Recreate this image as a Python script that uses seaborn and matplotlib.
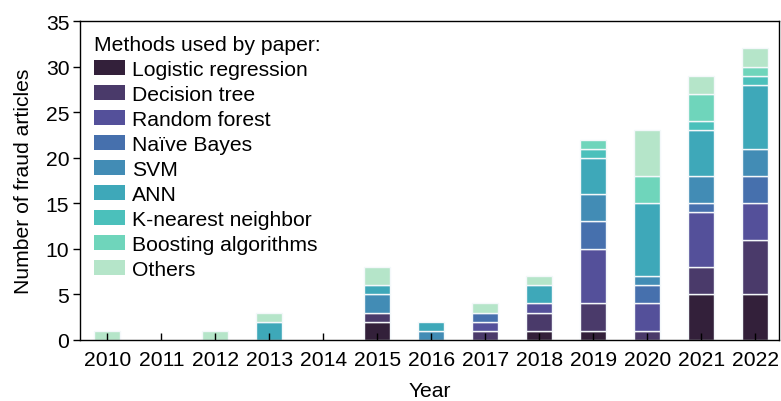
import matplotlib
matplotlib.use("Agg")
import matplotlib.pyplot as plt
from matplotlib.patches import Patch
import numpy as np
import pandas as pd
import seaborn as sns

years = [2010, 2011, 2012, 2013, 2014, 2015, 2016, 2017, 2018, 2019, 2020, 2021, 2022]
methods = ["Logistic regression", "Decision tree", "Random forest", "Naïve Bayes",
           "SVM", "ANN", "K-nearest neighbor", "Boosting algorithms", "Others"]

logistic_regression = [0, 0, 0, 0, 0, 2, 0, 0, 1, 1, 0, 5, 5]
decision_tree       = [0, 0, 0, 0, 0, 1, 0, 1, 2, 3, 1, 3, 6]
random_forest       = [0, 0, 0, 0, 0, 0, 0, 1, 1, 6, 3, 6, 4]
naive_bayes         = [0, 0, 0, 0, 0, 0, 0, 1, 0, 3, 2, 1, 3]
svm                 = [0, 0, 0, 0, 0, 2, 1, 0, 0, 3, 1, 3, 3]
ann                 = [0, 0, 0, 2, 0, 1, 1, 0, 2, 4, 8, 5, 7]
knn                 = [0, 0, 0, 0, 0, 0, 0, 0, 0, 1, 0, 1, 1]
boosting            = [0, 0, 0, 0, 0, 0, 0, 0, 0, 1, 3, 3, 1]
others              = [1, 0, 1, 1, 0, 2, 0, 1, 1, 0, 5, 2, 2]

series = [logistic_regression, decision_tree, random_forest, naive_bayes,
          svm, ann, knn, boosting, others]

colors = ["#33203a", "#4a3a6a", "#54509a", "#4670ad", "#428cb5",
          "#3ea8b9", "#4bc0bb", "#6fd5bb", "#b5e5c9"]

FS = 15.2
plt.rcParams["font.family"] = ["Liberation Sans", "DejaVu Sans"]
plt.rcParams["font.size"] = FS

fig, ax = plt.subplots(figsize=(7.81, 4.02), dpi=100)
fig.subplots_adjust(left=0.103, right=0.997, top=0.945, bottom=0.152)

order = [str(y) for y in years]
bottom = np.zeros(len(years))
for name, vals, col in zip(methods, series, colors):
    df = pd.DataFrame({"Year": order, "Count": vals, "Bottom": bottom.copy()})
    df = df[df["Count"] > 0]
    if len(df):
        sns.barplot(data=df, x="Year", y="Count", order=order, color=col,
                    width=0.48, errorbar=None, bottom=df["Bottom"].to_numpy(),
                    edgecolor="#f4f8fa", linewidth=1.0, saturation=1, ax=ax)
    bottom += np.array(vals)

ax.set_xlim(-0.5, 12.43)
ax.set_ylim(0, 35)
ax.set_yticks(range(0, 36, 5))
ax.set_xlabel("Year", fontsize=FS, labelpad=9)
ax.set_ylabel("Number of fraud articles", fontsize=FS, labelpad=9)
ax.tick_params(axis="x", direction="in", length=5, width=1, pad=7)
ax.tick_params(axis="y", direction="out", length=5, width=1, pad=3)
for s in ax.spines.values():
    s.set_linewidth(1.0)
    s.set_color("black")

handles = [Patch(facecolor=c, edgecolor="none") for c in colors]
leg = ax.legend(handles, methods, title="Methods used by paper:", loc="upper left",
                frameon=False, fontsize=FS, title_fontsize=FS,
                handlelength=1.46, handleheight=0.75, handletextpad=0.33,
                labelspacing=0.28, borderaxespad=0.25, bbox_to_anchor=(0.0, 1.0))
leg._legend_box.align = "left"

fig.savefig("out.png", dpi=100)
